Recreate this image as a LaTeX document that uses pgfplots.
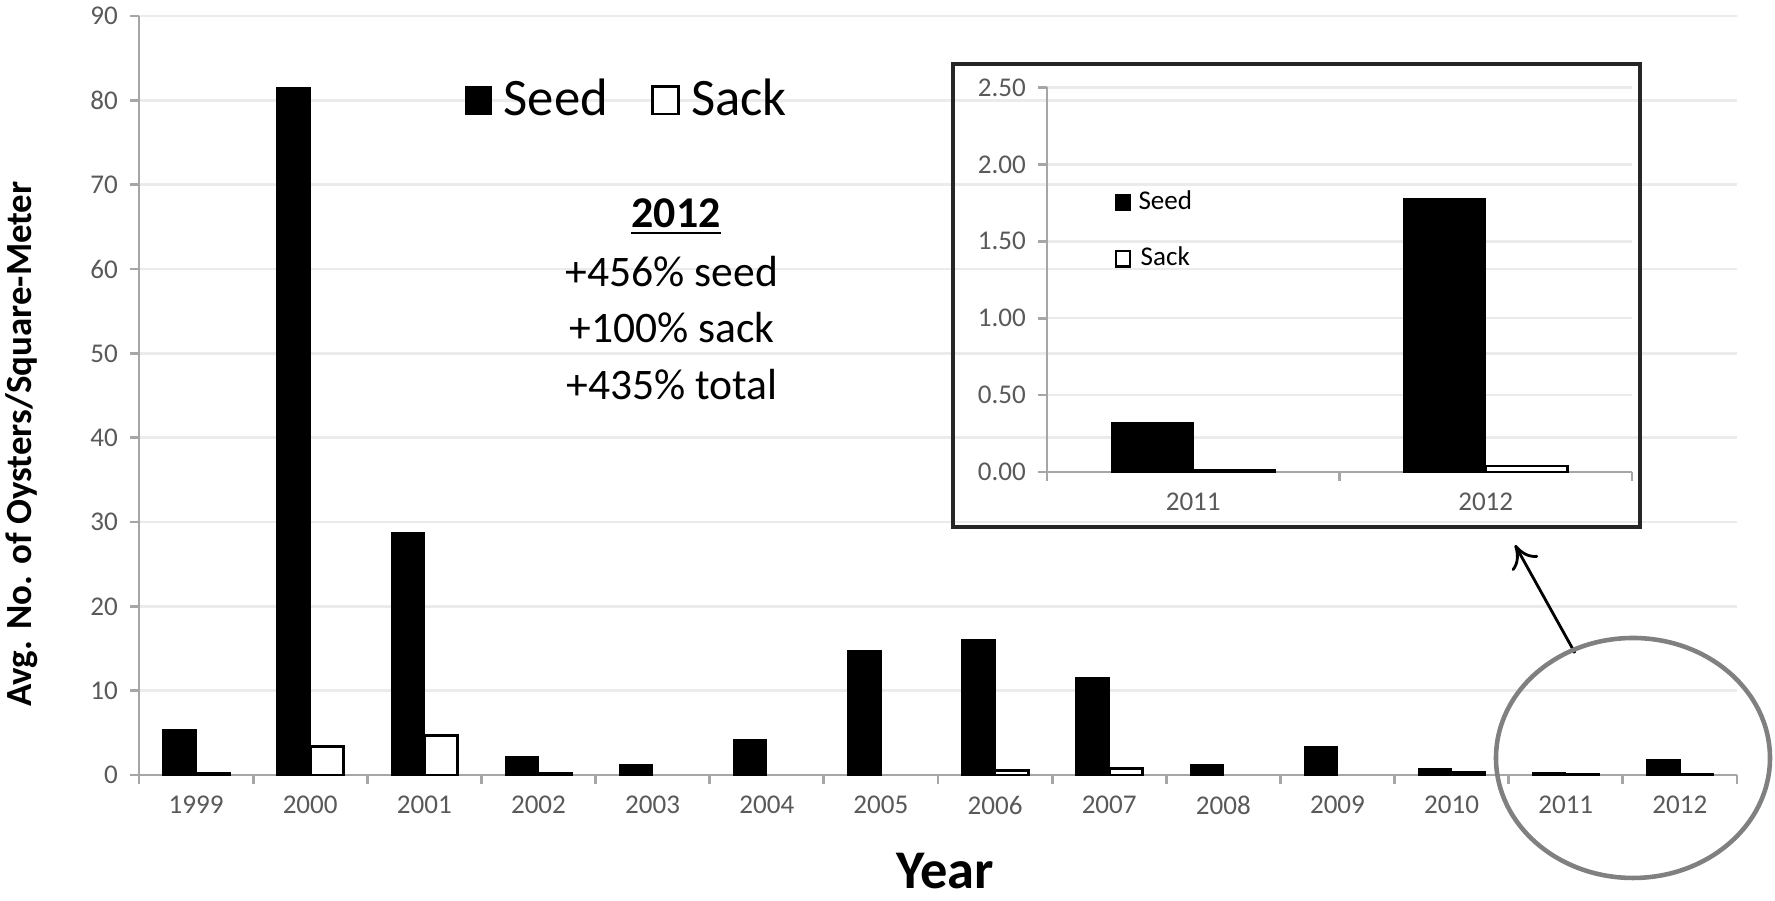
\documentclass[border=0pt]{standalone}
\usepackage{fontspec}
\setmainfont{Carlito}
\usepackage{pgfplots}
\pgfplotsset{compat=1.18}
\usetikzlibrary{arrows.meta}
\definecolor{tickgray}{HTML}{595959}
\definecolor{axisgray}{HTML}{A6A6A6}
\definecolor{gridgray}{HTML}{EBEBEB}
\definecolor{ringgray}{HTML}{808080}
\pgfplotsset{
  bigsq/.style={legend image code/.code={\draw[##1] (0pt,-3.9pt) rectangle (7.4pt,3.9pt); \path (8.6pt,0pt);}},
  smallsq/.style={legend image code/.code={\draw[##1] (0pt,-2.2pt) rectangle (4.0pt,2.2pt);}},
  xlstyle/.style={
    axis lines*=left,
    axis line style={draw=axisgray, line width=0.8pt, -},
    tick align=outside,
    major tick length=2.5pt,
    tick style={draw=axisgray, line width=0.8pt},
    ymajorgrids, grid style={draw=gridgray, line width=0.7pt},
    tick label style={font=\fontsize{7.7}{9}\selectfont, text=tickgray},
    x tick label as interval,
    enlargelimits=false,
  }
}
\begin{document}
\begin{tikzpicture}[x=0.1mm,y=0.1mm]
\path[use as bounding box] (0,0) rectangle (1775,901);
\begin{axis}[
  at={(13.9mm,12.6mm)}, anchor=south west,
  width=159.8mm, height=75.9mm, scale only axis,
  xlstyle,
  xmin=-0.5, xmax=13.5, ymin=0, ymax=90,
  ytick={0,10,20,30,40,50,60,70,80,90},
  yticklabel style={/pgf/number format/assume math mode=true},
  xtick={-0.5,0.5,1.5,2.5,3.5,4.5,5.5,6.5,7.5,8.5,9.5,10.5,11.5,12.5,13.5},
  xticklabels={1999,2000,2001,2002,2003,2004,2005,2006,2007,2008,2009,2010,2011,2012},
  ybar=0pt, bar width=0.29,
  legend columns=2,
  legend style={draw=none, fill=none, at={(0.2035,0.889)}, anchor=west, inner sep=0pt,
    font=\fontsize{15}{17}\selectfont,
    nodes={inner xsep=2pt},
    /tikz/every even column/.append style={column sep=3.6mm}},
  clip=false,
]
\addplot[fill=black, draw=black, bigsq] coordinates {
  (0,5.4) (1,81.5) (2,28.7) (3,2.2) (4,1.2) (5,4.2) (6,14.7)
  (7,16.0) (8,11.5) (9,1.2) (10,3.3) (11,0.74) (12,0.32) (13,1.78)};
\addlegendentry{Seed}
\addplot[fill=white, draw=black, line width=0.8pt, bigsq] coordinates {
  (0,0.2) (1,3.4) (2,4.7) (3,0.2) (7,0.5) (8,0.8) (11,0.3) (12,0.01) (13,0.04)};
\addlegendentry{Sack}
\end{axis}

\node[anchor=base, font=\fontsize{12.5}{15}\selectfont\bfseries] at (676,673) {\underline{2012}};
\node[anchor=base, font=\fontsize{12.4}{15}\selectfont] at (672,614) {+456\% seed};
\node[anchor=base, font=\fontsize{12.4}{15}\selectfont] at (672,558) {+100\% sack};
\node[anchor=base, font=\fontsize{12.4}{15}\selectfont] at (672,501) {+435\% total};

\node[rotate=90, anchor=base, font=\fontsize{10.5}{12}\selectfont\bfseries] at (32,457) {Avg. No. of Oysters/Square-Meter};
\node[anchor=base, font=\fontsize{15.5}{18}\selectfont\bfseries, inner sep=1pt] at (945,12) {Year};

\begin{axis}[
  at={(104.7mm,42.9mm)}, anchor=south west,
  width=58.5mm, height=38.45mm, scale only axis,
  xlstyle,
  xmin=-0.5, xmax=1.5, ymin=0, ymax=2.5,
  ytick={0,0.5,1,1.5,2,2.5},
  yticklabel style={/pgf/number format/.cd, fixed, fixed zerofill, precision=2, assume math mode=true},
  xtick={-0.5,0.5,1.5},
  xticklabels={2011,2012},
  ybar=0pt, bar width=0.28,
  legend style={draw=none, fill=none, at={(0.115,0.628)}, anchor=west, inner sep=0pt,
    row sep=1.8mm, font=\fontsize{7.7}{9}\selectfont},
  clip=false,
]
\addplot[fill=black, draw=black, smallsq] coordinates {(0,0.32) (1,1.78)};
\addlegendentry{Seed}
\addplot[fill=white, draw=black, line width=0.7pt, smallsq] coordinates {(0,0.01) (1,0.04)};
\addlegendentry{Sack}
\end{axis}

\draw[line width=0.9pt, black!85] (953,374) rectangle (1640,837);
\draw[line width=0.8pt, -{To[length=2.2mm,width=3mm]}] (1575,248) -- (1515,356);
\draw[ringgray, line width=1.3pt] (1633,143) ellipse [x radius=13.7mm, y radius=12mm];
\end{tikzpicture}
\end{document}
